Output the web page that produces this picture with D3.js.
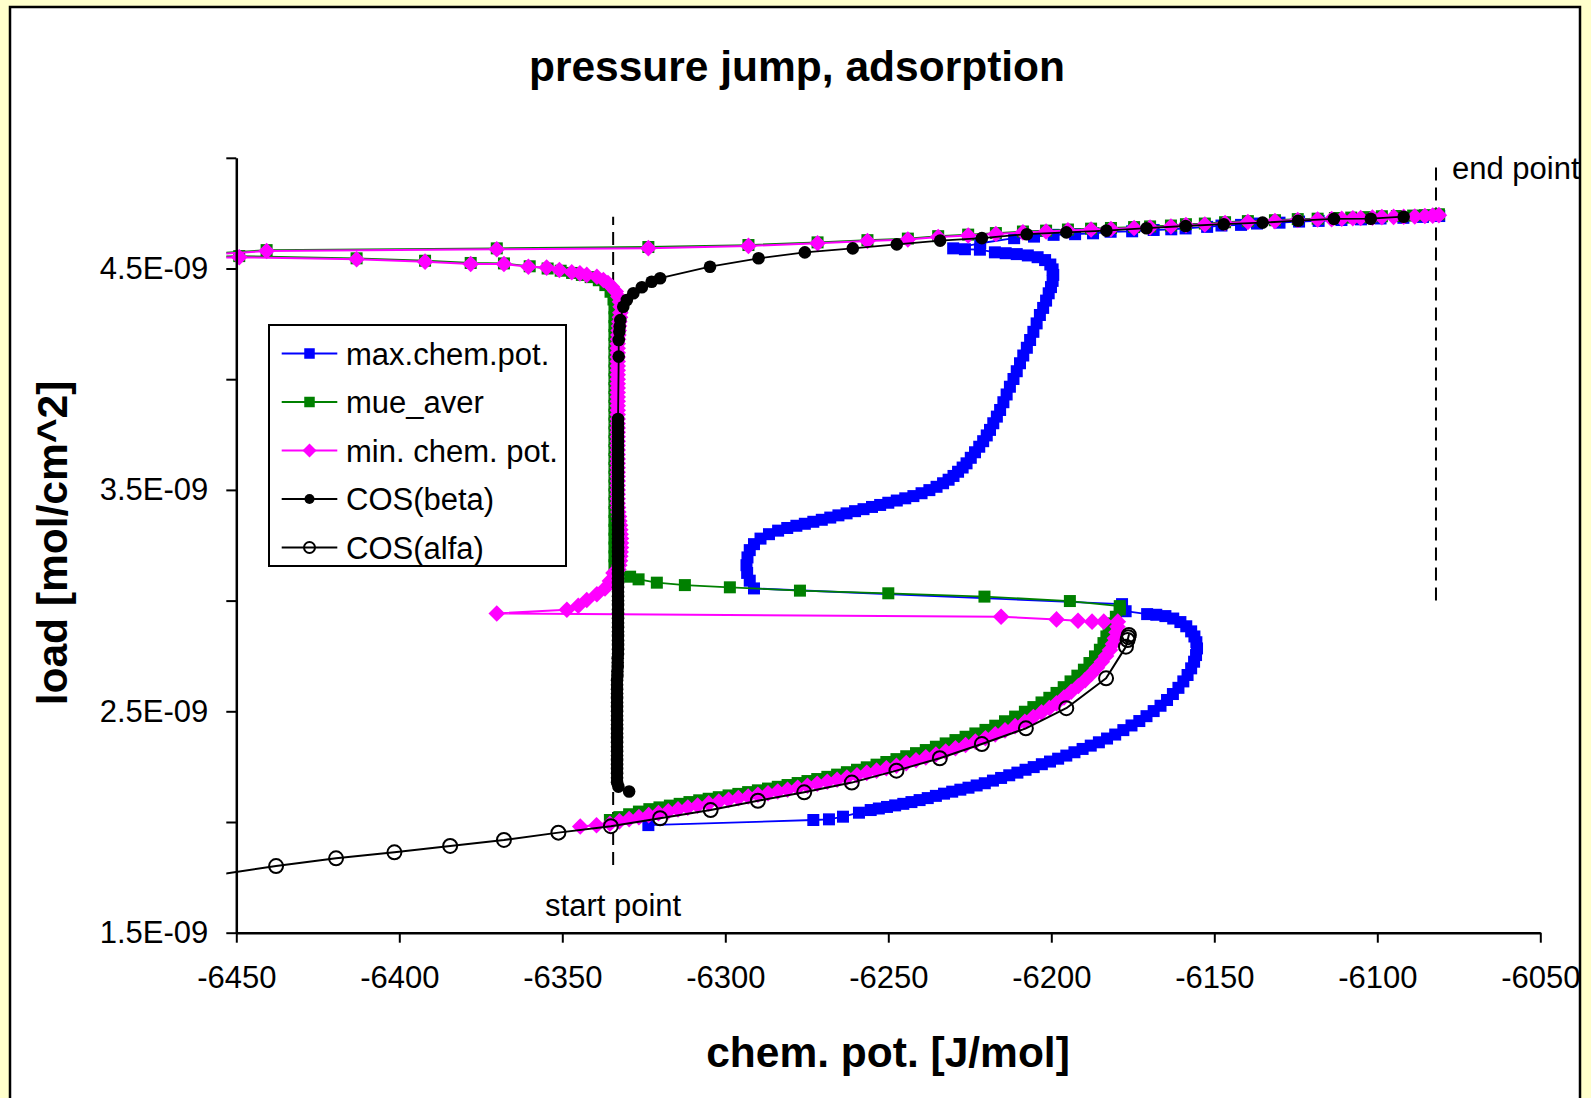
<!DOCTYPE html>
<html>
<head>
<meta charset="utf-8">
<script src="https://cdn.jsdelivr.net/npm/d3@7"></script>
<style>
  body { margin: 0; background: #ffffcc; }
  text { font-family: "Liberation Sans", Arial, sans-serif; fill: #000; }
</style>
</head>
<body>
<div id="chart"></div>
<script>
// load values are in units of 1E-09 mol/cm^2, chem. pot. in J/mol

var xTicks = [-6450, -6400, -6350, -6300, -6250, -6200, -6150, -6100, -6050];
var yTicks = [1.5, 2.0, 2.5, 3.0, 3.5, 4.0, 4.5, 5.0];
var yLabelled = [1.5, 2.5, 3.5, 4.5];

var seriesNames = ["max.chem.pot.", "mue_aver", "min. chem. pot.", "COS(beta)", "COS(alfa)"];

var startLine = [[-6334.4, 1.806], [-6334.4, 4.734]];
var endLine = [[-6082, 3.0], [-6082, 4.97]];

var maxChemPot = [
  [-6323.6,1.986],[-6273.0,2.009],[-6268.2,2.012],[-6263.9,2.024],[-6259.0,2.042],[-6255.4,2.054],
  [-6252.9,2.061],[-6250.4,2.068],[-6247.9,2.075],[-6245.4,2.082],[-6242.9,2.090],[-6240.4,2.099],
  [-6237.9,2.108],[-6235.4,2.118],[-6232.9,2.128],[-6230.4,2.137],[-6227.9,2.146],[-6225.4,2.155],
  [-6222.9,2.165],[-6220.4,2.175],[-6217.9,2.187],[-6215.4,2.199],[-6212.9,2.211],[-6210.4,2.223],
  [-6207.9,2.236],[-6205.4,2.248],[-6202.9,2.261],[-6200.4,2.273],[-6197.9,2.286],[-6195.4,2.300],
  [-6192.9,2.315],[-6190.4,2.330],[-6187.9,2.345],[-6185.4,2.360],[-6182.9,2.377],[-6180.4,2.395],
  [-6177.9,2.415],[-6175.4,2.436],[-6173.0,2.456],[-6170.8,2.478],[-6168.6,2.501],[-6166.5,2.525],
  [-6164.5,2.551],[-6162.7,2.578],[-6161.0,2.606],[-6159.5,2.635],[-6158.2,2.664],[-6157.1,2.694],
  [-6156.2,2.724],[-6155.6,2.754],[-6155.3,2.784],[-6155.5,2.812],[-6156.1,2.838],[-6157.1,2.861],
  [-6158.6,2.884],[-6160.4,2.903],[-6162.6,2.919],[-6165.0,2.930],[-6167.8,2.936],[-6170.6,2.939],
  [-6177.2,2.952],[-6178.3,2.984],
  [-6291.2,3.055],[-6292.5,3.090],[-6293.3,3.125],[-6293.5,3.160],[-6293.2,3.195],[-6292.5,3.228],
  [-6291.2,3.255],[-6289.2,3.280],[-6286.6,3.300],[-6283.8,3.316],[-6281.0,3.328],[-6278.2,3.338],
  [-6275.6,3.347],[-6273.0,3.356],[-6270.4,3.365],[-6267.8,3.375],[-6265.3,3.385],[-6262.8,3.394],
  [-6260.2,3.404],[-6257.6,3.413],[-6255.0,3.423],[-6252.5,3.432],[-6250.0,3.442],[-6247.4,3.452],
  [-6244.8,3.462],[-6242.3,3.472],[-6239.8,3.485],[-6237.4,3.499],[-6235.2,3.514],[-6233.2,3.530],
  [-6231.5,3.546],[-6230.0,3.563],[-6228.6,3.582],[-6227.2,3.601],[-6226.0,3.620],[-6224.7,3.645],
  [-6223.4,3.670],[-6222.1,3.695],[-6220.9,3.720],[-6219.8,3.746],[-6218.8,3.771],[-6217.8,3.801],
  [-6216.7,3.831],[-6215.7,3.861],[-6214.7,3.896],[-6213.7,3.931],[-6212.7,3.966],[-6211.6,4.001],
  [-6210.6,4.036],[-6209.6,4.072],[-6208.6,4.107],[-6207.5,4.142],[-6206.5,4.177],[-6205.5,4.214],
  [-6204.5,4.252],[-6203.5,4.290],[-6202.5,4.322],[-6201.6,4.355],[-6200.8,4.388],[-6200.1,4.416],
  [-6199.6,4.444],[-6199.4,4.471],[-6199.6,4.496],[-6200.3,4.518],[-6201.9,4.538],[-6204.2,4.551],
  [-6207.2,4.559],[-6210.6,4.565],[-6214.0,4.569],[-6217.3,4.573],[-6221.9,4.585],[-6226.5,4.587],
  [-6230.1,4.591],
  [-6221.8,4.614],[-6211.4,4.637],[-6205.3,4.644],[-6199.3,4.652],[-6192.7,4.655],[-6187.2,4.659],
  [-6181.8,4.666],[-6175.2,4.668],[-6168.6,4.674],[-6163.2,4.677],[-6158.8,4.681],[-6152.2,4.688],
  [-6147.8,4.694],[-6141.8,4.697],[-6136.9,4.703],[-6130.0,4.707],[-6124.0,4.712],[-6118.0,4.715],
  [-6111.0,4.719],[-6105.0,4.722],[-6099.0,4.726],[-6092.0,4.729],[-6086.0,4.733],[-6081.0,4.737]
];

var mueAver = [
  [-6335.4,2.009],[-6332.5,2.022],[-6329.5,2.035],[-6326.5,2.047],[-6323.3,2.058],[-6320.2,2.066],
  [-6317.0,2.074],[-6314.0,2.082],[-6311.0,2.090],[-6308.0,2.098],[-6305.1,2.105],[-6302.0,2.112],
  [-6299.0,2.120],[-6296.0,2.127],[-6293.0,2.135],[-6290.0,2.143],[-6286.9,2.151],[-6283.9,2.159],
  [-6280.9,2.167],[-6277.8,2.176],[-6274.8,2.185],[-6271.8,2.194],[-6268.7,2.204],[-6265.7,2.214],
  [-6262.7,2.225],[-6259.6,2.236],[-6256.6,2.247],[-6253.6,2.259],[-6250.6,2.271],[-6247.5,2.284],
  [-6244.5,2.297],[-6241.5,2.311],[-6238.5,2.325],[-6235.4,2.340],[-6232.4,2.355],[-6229.4,2.370],
  [-6226.3,2.385],[-6223.3,2.400],[-6220.2,2.416],[-6217.2,2.435],[-6214.2,2.455],[-6211.1,2.476],
  [-6208.1,2.498],[-6205.5,2.519],[-6203.0,2.540],[-6200.6,2.561],[-6198.4,2.583],[-6196.2,2.609],
  [-6194.1,2.635],[-6192.0,2.661],[-6190.0,2.688],[-6188.3,2.718],[-6186.6,2.748],[-6185.1,2.778],
  [-6184.0,2.808],[-6183.1,2.838],[-6182.4,2.867],[-6181.3,2.897],[-6180.2,2.927],[-6179.0,2.960],
  [-6179.0,2.975],
  [-6194.3,2.998],[-6220.5,3.018],[-6250.0,3.033],[-6277.1,3.045],[-6298.6,3.060],[-6312.4,3.070],
  [-6321.0,3.081],[-6326.6,3.096],[-6329.2,3.108],[-6333.0,3.125],
  [-6334.0,3.16],[-6334.0,3.20],[-6334.0,3.24],[-6334.0,3.28],[-6334.0,3.32],[-6334.0,3.36],
  [-6334.0,3.40],[-6334.0,3.44],[-6334.0,3.48],[-6334.0,3.52],[-6334.0,3.56],[-6334.0,3.60],
  [-6334.0,3.64],[-6334.0,3.68],[-6334.0,3.72],[-6334.0,3.76],[-6334.0,3.80],[-6334.0,3.84],
  [-6334.0,3.88],[-6334.0,3.92],[-6334.0,3.96],[-6334.0,4.00],[-6334.0,4.04],[-6334.0,4.08],
  [-6334.0,4.12],[-6334.0,4.16],[-6334.0,4.20],[-6334.0,4.24],[-6334.0,4.28],[-6334.0,4.32],
  [-6334.3,4.360],[-6335.2,4.395],[-6336.8,4.425],[-6338.8,4.447],[-6341.3,4.461],[-6344.0,4.471],
  [-6347.0,4.480],[-6350.5,4.490],[-6354.5,4.500],[-6360.0,4.510],[-6367.9,4.523],[-6378.1,4.525],
  [-6392.1,4.535],[-6413.1,4.546],[-6449.1,4.556],[-6490.0,4.538],
  [-6440.7,4.583],[-6370.1,4.591],[-6323.6,4.597],[-6292.9,4.606],[-6271.7,4.618],[-6256.4,4.628],
  [-6244.0,4.635],[-6234.7,4.646],[-6225.5,4.653],[-6217.0,4.660],[-6208.7,4.667],[-6201.6,4.671],
  [-6194.9,4.676],[-6187.8,4.680],[-6181.7,4.683],[-6174.6,4.687],[-6169.7,4.690],[-6163.3,4.694],
  [-6158.7,4.700],[-6152.9,4.703],[-6146.7,4.709],[-6139.7,4.714],[-6131.4,4.718],[-6124.4,4.723],
  [-6118.3,4.725],[-6113.0,4.728],[-6108.0,4.730],[-6103.0,4.732],[-6098.6,4.736],[-6094.0,4.737],
  [-6089.0,4.739],[-6085.4,4.741],[-6081.1,4.745]
];

var minChemPot = [
  [-6344.5,1.980],[-6339.5,1.985],[-6335.4,1.992],[-6332.5,2.003],[-6329.5,2.013],[-6326.5,2.022],
  [-6323.5,2.031],[-6320.5,2.040],[-6317.5,2.048],[-6314.5,2.057],[-6311.5,2.065],[-6308.5,2.074],
  [-6305.1,2.084],[-6302.0,2.092],[-6299.0,2.100],[-6296.0,2.108],[-6293.0,2.115],[-6290.0,2.123],
  [-6286.9,2.130],[-6283.9,2.138],[-6280.9,2.146],[-6277.8,2.155],[-6274.8,2.164],[-6271.8,2.173],
  [-6268.7,2.182],[-6265.7,2.191],[-6262.7,2.201],[-6259.6,2.211],[-6256.6,2.222],[-6253.6,2.232],
  [-6250.6,2.243],[-6247.5,2.254],[-6244.5,2.266],[-6241.5,2.279],[-6238.5,2.292],[-6235.4,2.305],
  [-6232.4,2.318],[-6229.4,2.333],[-6226.3,2.348],[-6223.3,2.363],[-6220.2,2.378],[-6217.2,2.396],
  [-6214.2,2.414],[-6211.1,2.433],[-6208.1,2.453],[-6205.5,2.474],[-6203.0,2.495],[-6200.6,2.515],
  [-6198.4,2.536],[-6196.1,2.562],[-6193.9,2.588],[-6191.7,2.614],[-6189.6,2.641],[-6187.7,2.669],
  [-6186.0,2.697],[-6184.5,2.724],[-6183.2,2.750],[-6182.0,2.777],[-6181.1,2.804],[-6180.5,2.830],
  [-6180.0,2.857],[-6179.7,2.882],[-6179.6,2.905],
  [-6183.9,2.905],[-6187.5,2.905],[-6191.8,2.909],[-6198.4,2.915],[-6215.4,2.927],
  [-6370.1,2.942],[-6348.6,2.959],[-6345.1,2.977],[-6342.5,3.003],[-6339.4,3.029],[-6336.9,3.055],
  [-6335.4,3.089],[-6334.3,3.125],
  [-6332.8,3.14],[-6332.5,3.16],[-6332.3,3.18],[-6332.2,3.20],[-6332.1,3.22],[-6332.0,3.24],
  [-6332.0,3.26],[-6332.0,3.28],[-6332.1,3.30],[-6332.2,3.32],[-6332.3,3.34],[-6332.5,3.36],
  [-6332.6,3.38],[-6332.8,3.40],[-6332.9,3.42],[-6333.0,3.44],[-6333.0,3.46],[-6333.0,3.48],
  [-6333.0,3.50],[-6333.0,3.52],[-6333.0,3.54],[-6333.0,3.56],[-6333.0,3.58],[-6333.0,3.60],
  [-6333.0,3.62],[-6333.0,3.64],[-6333.0,3.66],[-6333.0,3.68],[-6333.0,3.70],[-6333.0,3.72],
  [-6333.0,3.74],[-6333.0,3.76],[-6333.0,3.78],[-6333.0,3.80],[-6333.0,3.82],[-6333.0,3.84],
  [-6333.0,3.86],[-6333.0,3.88],[-6333.0,3.90],[-6333.0,3.92],[-6333.0,3.94],[-6333.0,3.96],
  [-6333.0,3.98],[-6333.0,4.00],[-6333.0,4.02],[-6333.0,4.04],[-6333.0,4.06],[-6333.0,4.08],
  [-6333.0,4.10],[-6333.0,4.12],[-6333.0,4.14],[-6333.0,4.16],[-6332.9,4.18],[-6332.8,4.20],
  [-6332.7,4.22],[-6332.6,4.24],[-6332.5,4.26],[-6332.3,4.28],[-6332.2,4.30],
  [-6332.1,4.327],[-6332.3,4.350],[-6332.8,4.373],[-6333.6,4.396],[-6334.8,4.418],[-6336.0,4.434],
  [-6337.4,4.448],[-6339.4,4.463],[-6342.5,4.471],[-6344.6,4.478],[-6347.1,4.483],[-6350.9,4.493],
  [-6354.8,4.504],[-6360.4,4.508],[-6367.9,4.520],[-6378.1,4.520],[-6392.1,4.531],[-6413.1,4.542],
  [-6449.1,4.551],[-6490.0,4.535],
  [-6440.7,4.579],[-6370.1,4.587],[-6323.6,4.592],[-6292.9,4.602],[-6271.7,4.614],[-6256.4,4.624],
  [-6244.0,4.631],[-6234.7,4.642],[-6225.5,4.649],[-6217.0,4.656],[-6208.7,4.663],[-6201.6,4.667],
  [-6194.9,4.672],[-6187.8,4.676],[-6181.7,4.678],[-6174.6,4.683],[-6169.7,4.685],[-6163.3,4.690],
  [-6158.7,4.696],[-6152.9,4.699],[-6146.7,4.705],[-6139.7,4.710],[-6131.4,4.714],[-6124.4,4.719],
  [-6118.3,4.721],[-6114.0,4.723],[-6110.9,4.725],[-6107.5,4.727],[-6105.1,4.728],[-6101.5,4.730],
  [-6098.6,4.732],[-6095.0,4.733],[-6091.9,4.734],[-6088.5,4.735],[-6085.4,4.737],[-6083.0,4.739],
  [-6081.1,4.741]
];

var cosBeta = [
  [-6329.5,2.138],[-6332.8,2.160],
  [-6333.2,2.18],[-6333.2,2.20],[-6333.2,2.22],[-6333.2,2.24],[-6333.2,2.26],[-6333.2,2.28],
  [-6333.2,2.30],[-6333.2,2.32],[-6333.2,2.34],[-6333.2,2.36],[-6333.2,2.38],[-6333.2,2.40],
  [-6333.2,2.42],[-6333.2,2.44],[-6333.2,2.46],[-6333.2,2.48],[-6333.2,2.50],[-6333.2,2.52],
  [-6333.2,2.54],[-6333.2,2.56],[-6333.2,2.58],[-6333.2,2.60],[-6333.2,2.62],[-6333.2,2.64],
  [-6333.1,2.66],[-6333.1,2.68],[-6333.0,2.70],[-6333.0,2.72],[-6333.0,2.74],[-6332.9,2.76],
  [-6332.9,2.78],[-6332.9,2.80],[-6332.9,2.82],[-6332.9,2.84],[-6332.9,2.86],[-6332.9,2.88],
  [-6332.9,2.90],[-6332.9,2.92],[-6332.9,2.94],[-6332.9,2.96],[-6332.9,2.98],[-6332.9,3.00],
  [-6332.9,3.02],[-6332.9,3.04],[-6332.9,3.06],[-6332.9,3.08],[-6332.9,3.10],[-6332.9,3.12],
  [-6332.9,3.14],[-6332.9,3.16],[-6332.9,3.18],[-6332.9,3.20],[-6332.9,3.22],[-6332.9,3.24],
  [-6332.9,3.26],[-6332.9,3.28],[-6332.9,3.30],[-6332.9,3.32],[-6332.9,3.34],[-6332.9,3.36],
  [-6332.9,3.38],[-6332.9,3.40],[-6332.9,3.42],[-6332.9,3.44],[-6332.9,3.46],[-6332.9,3.48],
  [-6332.9,3.50],[-6332.9,3.52],[-6332.9,3.54],[-6332.9,3.56],[-6332.9,3.58],[-6332.9,3.60],
  [-6332.9,3.62],[-6332.9,3.64],[-6332.9,3.66],[-6332.9,3.68],[-6332.9,3.70],[-6332.9,3.72],
  [-6332.9,3.74],[-6332.9,3.76],[-6332.9,3.78],[-6332.9,3.80],[-6332.9,3.82],
  [-6332.7,4.102],[-6332.7,4.177],[-6332.5,4.214],[-6332.4,4.238],[-6332.2,4.267],[-6331.3,4.327],
  [-6330.2,4.358],[-6328.2,4.388],[-6325.6,4.415],[-6322.6,4.440],[-6320.0,4.456],[-6304.7,4.508],
  [-6289.8,4.546],[-6275.6,4.573],[-6260.9,4.591],[-6247.4,4.609],[-6234.1,4.626],[-6221.3,4.637],
  [-6207.5,4.655],[-6195.4,4.663],[-6183.1,4.671],[-6170.8,4.682],[-6158.8,4.692],[-6147.1,4.700],
  [-6135.2,4.707],[-6124.3,4.716],[-6113.3,4.724],[-6102.0,4.725],[-6091.9,4.734]
];

var cosAlfa = [
  [-6456.0,1.761],[-6437.8,1.801],[-6419.4,1.836],[-6401.5,1.863],[-6384.4,1.892],[-6367.9,1.919],
  [-6351.2,1.952],[-6335.1,1.981],[-6320.0,2.017],[-6304.5,2.054],[-6290.0,2.096],[-6275.8,2.134],
  [-6261.2,2.178],[-6247.5,2.232],[-6234.2,2.288],[-6221.3,2.352],[-6207.8,2.423],[-6195.4,2.514],
  [-6183.2,2.649],[-6177.1,2.792],[-6176.6,2.822],[-6176.2,2.845],[-6176.4,2.835]
];

var svgWidth = 1591, svgHeight = 1098;
var plot = { left: 236.3, right: 1540.3, top: 157.8, bottom: 932.7 };

var svg = d3.select("#chart").append("svg")
  .attr("width", svgWidth)
  .attr("height", svgHeight);

// yellow page and white chart area
svg.append("rect").attr("width", svgWidth).attr("height", svgHeight).attr("fill", "#ffffcc");
svg.append("rect")
  .attr("x", 10).attr("y", 7)
  .attr("width", 1570).attr("height", 1120)
  .attr("fill", "#ffffff")
  .attr("stroke", "#000").attr("stroke-width", 2.5);

var xScale = d3.scaleLinear().domain([-6450, -6050]).range([plot.left, plot.right]);
var yScale = d3.scaleLinear().domain([1.5, 5.0]).range([plot.bottom, plot.top]);

// clip a bit wider on the left, like the original lets lines run past the axis
svg.append("clipPath").attr("id", "plotClip")
  .append("rect")
  .attr("x", plot.left - 10).attr("y", plot.top - 15)
  .attr("width", plot.right - plot.left + 20).attr("height", plot.bottom - plot.top + 25);

var lineGen = d3.line().x(d => xScale(d[0])).y(d => yScale(d[1]));

var plotGroup = svg.append("g").attr("clip-path", "url(#plotClip)");

// dashed start / end markers
[startLine, endLine].forEach(function(seg) {
  plotGroup.append("path")
    .datum(seg)
    .attr("d", lineGen)
    .attr("fill", "none")
    .attr("stroke", "#000")
    .attr("stroke-width", 2)
    .attr("stroke-dasharray", "13,7");
});

function inside(d) {
  return d[0] >= -6450 && d[0] <= -6050;
}

function drawSeries(data, color, lineWidth, markerFn) {
  var g = plotGroup.append("g");
  g.append("path")
    .datum(data)
    .attr("d", lineGen)
    .attr("fill", "none")
    .attr("stroke", color)
    .attr("stroke-width", lineWidth)
    .attr("stroke-linejoin", "round");
  var pts = g.selectAll(".pt")
    .data(data.filter(inside))
    .enter()
    .append("g")
    .attr("transform", d => `translate(${xScale(d[0])},${yScale(d[1])})`);
  markerFn(pts);
}

function squareMarker(color, size) {
  return function(sel) {
    sel.append("rect")
      .attr("x", -size / 2).attr("y", -size / 2)
      .attr("width", size).attr("height", size)
      .attr("fill", color);
  };
}

function diamondMarker(color, half) {
  return function(sel) {
    sel.append("path")
      .attr("d", `M0,${-half}L${half},0L0,${half}L${-half},0Z`)
      .attr("fill", color);
  };
}

function dotMarker(r) {
  return function(sel) {
    sel.append("circle").attr("r", r).attr("fill", "#000");
  };
}

function ringMarker(r) {
  return function(sel) {
    sel.append("circle").attr("r", r)
      .attr("fill", "none").attr("stroke", "#000").attr("stroke-width", 2);
  };
}

drawSeries(maxChemPot, "#0000ff", 1.8, squareMarker("#0000ff", 12));
drawSeries(mueAver, "#008000", 1.8, squareMarker("#008000", 12));
drawSeries(minChemPot, "#ff00ff", 2, diamondMarker("#ff00ff", 8.3));
drawSeries(cosBeta, "#000", 1.8, dotMarker(6.3));
drawSeries(cosAlfa, "#000", 2, ringMarker(7));

// axes
var xAxis = d3.axisBottom(xScale)
  .tickValues(xTicks)
  .tickSize(10)
  .tickSizeOuter(0)
  .tickPadding(23)
  .tickFormat(d => String(d));

var yAxis = d3.axisLeft(yScale)
  .tickValues(yTicks)
  .tickSize(10)
  .tickSizeOuter(0)
  .tickPadding(18)
  .tickFormat(d => yLabelled.indexOf(d) >= 0 ? d.toFixed(1) + "E-09" : "");

var xAxisG = svg.append("g")
  .attr("transform", `translate(0,${plot.bottom})`)
  .call(xAxis);
var yAxisG = svg.append("g")
  .attr("transform", `translate(${plot.left},0)`)
  .call(yAxis);

[xAxisG, yAxisG].forEach(function(g) {
  g.select(".domain").attr("stroke", "#000").attr("stroke-width", 2.5);
  g.selectAll(".tick line").attr("stroke", "#000").attr("stroke-width", 2);
  g.selectAll(".tick text")
    .attr("fill", "#000")
    .style("font-family", "'Liberation Sans', Arial, sans-serif")
    .style("font-size", "31px");
});

// titles
svg.append("text")
  .attr("x", 797).attr("y", 81)
  .attr("text-anchor", "middle")
  .style("font-size", "42.5px").style("font-weight", "bold")
  .text("pressure jump, adsorption");

svg.append("text")
  .attr("x", 888).attr("y", 1067)
  .attr("text-anchor", "middle")
  .style("font-size", "42.5px").style("font-weight", "bold")
  .text("chem. pot. [J/mol]");

svg.append("text")
  .attr("transform", "translate(67,543) rotate(-90)")
  .attr("text-anchor", "middle")
  .style("font-size", "42.5px").style("font-weight", "bold")
  .text("load [mol/cm^2]");

// start / end labels
svg.append("text")
  .attr("x", xScale(startLine[0][0])).attr("y", 916)
  .attr("text-anchor", "middle")
  .style("font-size", "31px")
  .text("start point");

svg.append("text")
  .attr("x", xScale(endLine[0][0]) + 16).attr("y", 179)
  .style("font-size", "31px")
  .text("end point");

// legend
var legend = svg.append("g").attr("transform", "translate(269,325)");
legend.append("rect")
  .attr("width", 297).attr("height", 241)
  .attr("fill", "#fff").attr("stroke", "#000").attr("stroke-width", 2);

var legendColors = ["#0000ff", "#008000", "#ff00ff", "#000", "#000"];
var legendMarkers = [
  squareMarker("#0000ff", 10.5), squareMarker("#008000", 10.5), diamondMarker("#ff00ff", 7),
  dotMarker(5), ringMarker(5.5)
];

seriesNames.forEach(function(name, i) {
  var row = legend.append("g").attr("transform", `translate(0,${28.5 + i * 48.5})`);
  row.append("line")
    .attr("x1", 12.7).attr("x2", 68.3)
    .attr("stroke", legendColors[i]).attr("stroke-width", 2);
  var m = row.append("g").attr("transform", "translate(40.5,0)");
  legendMarkers[i](m);
  row.append("text")
    .attr("x", 77).attr("y", 11)
    .style("font-size", "31px")
    .text(name);
});
</script>
</body>
</html>
